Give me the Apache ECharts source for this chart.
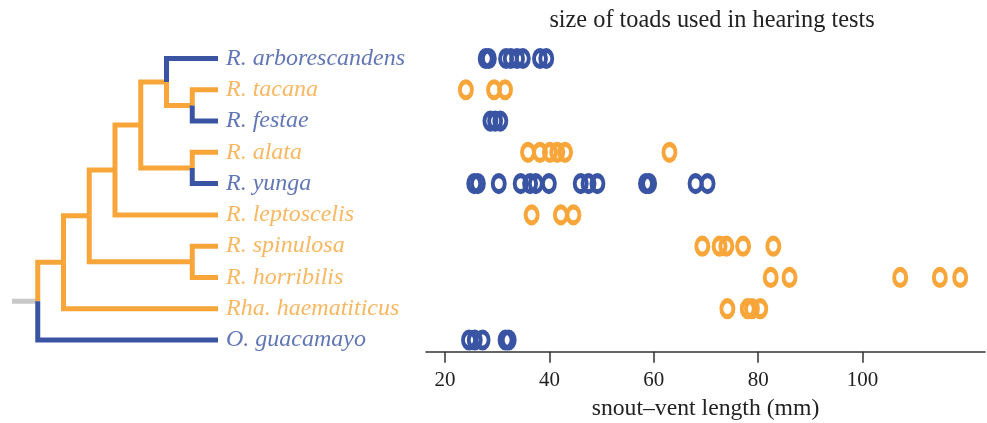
<!DOCTYPE html>
<html><head><meta charset="utf-8">
<script src="https://cdn.jsdelivr.net/npm/echarts@6/dist/echarts.min.js"></script>
<style>html,body{margin:0;padding:0;background:#fff}#c{width:987px;height:423px}</style>
</head><body><div id="c"></div>
<script>
// ---- data ----
const species = ['R. arborescandens','R. tacana','R. festae','R. alata','R. yunga','R. leptoscelis','R. spinulosa','R. horribilis','Rha. haematiticus','O. guacamayo'];
const speciesState = [1,0,1,0,1,0,0,0,0,1]; // 1 = blue, 0 = orange
const svl_arborescandens = [27.8,28.4,31.7,32.6,33.8,34.9,38.2,39.4];
const svl_tacana = [24.0,29.4,31.5];
const svl_festae = [28.7,29.6,30.6];
const svl_alata = [35.9,38.2,40.1,41.5,43.0,63.0];
const svl_yunga = [25.6,26.3,30.3,34.5,36.3,37.4,39.9,46.0,47.5,49.2,58.5,59.1,68.0,70.3];
const svl_leptoscelis = [36.6,42.2,44.6];
const svl_spinulosa = [69.3,72.6,73.9,77.1,82.9];
const svl_horribilis = [82.4,86.0,107.2,114.8,118.7];
const svl_haematiticus = [74.1,78.0,78.8,80.4];
const svl_guacamayo = [24.6,25.7,27.2,31.6,32.2];
const svlBySpecies = [svl_arborescandens,svl_tacana,svl_festae,svl_alata,svl_yunga,svl_leptoscelis,svl_spinulosa,svl_horribilis,svl_haematiticus,svl_guacamayo];
const xTicks = [20,40,60,80,100];
// tree (cladogram): internal nodes, their children (tip index or node name), depth level
const nodeNames = ['G','F','AY','E','D','SH','C','B','root'];
const nodeChildren = [[1,2],[0,'G'],[3,4],['F','AY'],['E',5],[6,7],['D','SH'],['C',8],['B',9]];
const nodeLevels = [7,6,7,5,4,7,3,2,1];
const tipLevel = 8;
const title = 'size of toads used in hearing tests';
const xName = 'snout\u2013vent length (mm)';

// ---- styling ----
const ORANGE = '#F8A53A', BLUE = '#3A54A4', GREY = '#C8C8C8', TXT = '#222';
const FONT = 'Liberation Serif';
const yMin = -1, yMax = 9.374;
const gridTop = 27.2, gridH = 324.5;

// compute node positions
const pos = {};
species.forEach((s,i)=>{pos[i]={x:tipLevel,y:i,state:speciesState[i]};});
nodeNames.forEach((n,k)=>{
  const ch = nodeChildren[k].map(c=>pos[c]);
  pos[n] = {x:nodeLevels[k], y:(ch[0].y+ch[1].y)/2, state:0};
});
const series = [];
nodeNames.forEach((n,k)=>{
  const p = pos[n];
  nodeChildren[k].forEach(c=>{
    const q = pos[c];
    series.push({type:'line',xAxisIndex:0,yAxisIndex:0,silent:true,showSymbol:false,animation:false,
      data:[[p.x,p.y],[p.x,q.y],[q.x,q.y]],
      lineStyle:{color:q.state?BLUE:ORANGE,width:5,cap:'butt',join:'miter'},z:q.state?3:2});
  });
});
const r = pos['root'];
series.push({type:'line',xAxisIndex:0,yAxisIndex:0,silent:true,showSymbol:false,animation:false,
  data:[[0,r.y],[r.x,r.y]],lineStyle:{color:GREY,width:5,cap:'butt'},z:1});
// tip labels
series.push({type:'scatter',xAxisIndex:0,yAxisIndex:0,silent:true,animation:false,symbolSize:0,
  data:species.map((s,i)=>({value:[tipLevel,i],name:s,label:{color:speciesState[i]?BLUE:ORANGE}})),
  label:{show:true,position:'right',distance:8,formatter:'{b}',fontFamily:FONT,fontStyle:'italic',fontSize:24}});
// points
svlBySpecies.forEach((arr,i)=>{
  const col = speciesState[i]?BLUE:ORANGE;
  series.push({type:'scatter',xAxisIndex:1,yAxisIndex:1,silent:true,animation:false,
    symbol:'circle',symbolSize:[12,16],
    itemStyle:{color:'rgba(255,255,255,0)',borderColor:col,borderWidth:4.5,opacity:1},
    data:arr.map(v=>[v,i])});
});

const chart = echarts.init(document.getElementById('c'),null,{renderer:'canvas'});
chart.setOption({
  backgroundColor:'#fff',animation:false,
  title:{text:title,left:707,top:4,textAlign:'center',textStyle:{fontFamily:FONT,fontWeight:'normal',fontSize:24.3,color:TXT}},
  grid:[{left:12,width:206,top:gridTop,height:gridH,outerBoundsMode:'none'},
        {left:426,right:2,top:gridTop,height:gridH,outerBoundsMode:'none'}],
  xAxis:[
    {type:'value',gridIndex:0,min:0,max:tipLevel,show:false},
    {type:'value',gridIndex:1,min:16.36,max:123.45,
      axisLine:{show:true,onZero:false,lineStyle:{color:'#333',width:1.5}},
      axisTick:{show:true,length:11,customValues:xTicks,lineStyle:{color:'#333',width:1.5}},
      axisLabel:{customValues:xTicks,margin:18,fontFamily:FONT,fontSize:21,color:TXT},
      splitLine:{show:false},
      name:xName,nameLocation:'middle',nameGap:45,
      nameTextStyle:{fontFamily:FONT,fontSize:23.7,color:TXT}}
  ],
  yAxis:[
    {type:'value',gridIndex:0,min:yMin,max:yMax,inverse:true,show:false},
    {type:'value',gridIndex:1,min:yMin,max:yMax,inverse:true,show:false}
  ],
  series:series
});
</script></body></html>
